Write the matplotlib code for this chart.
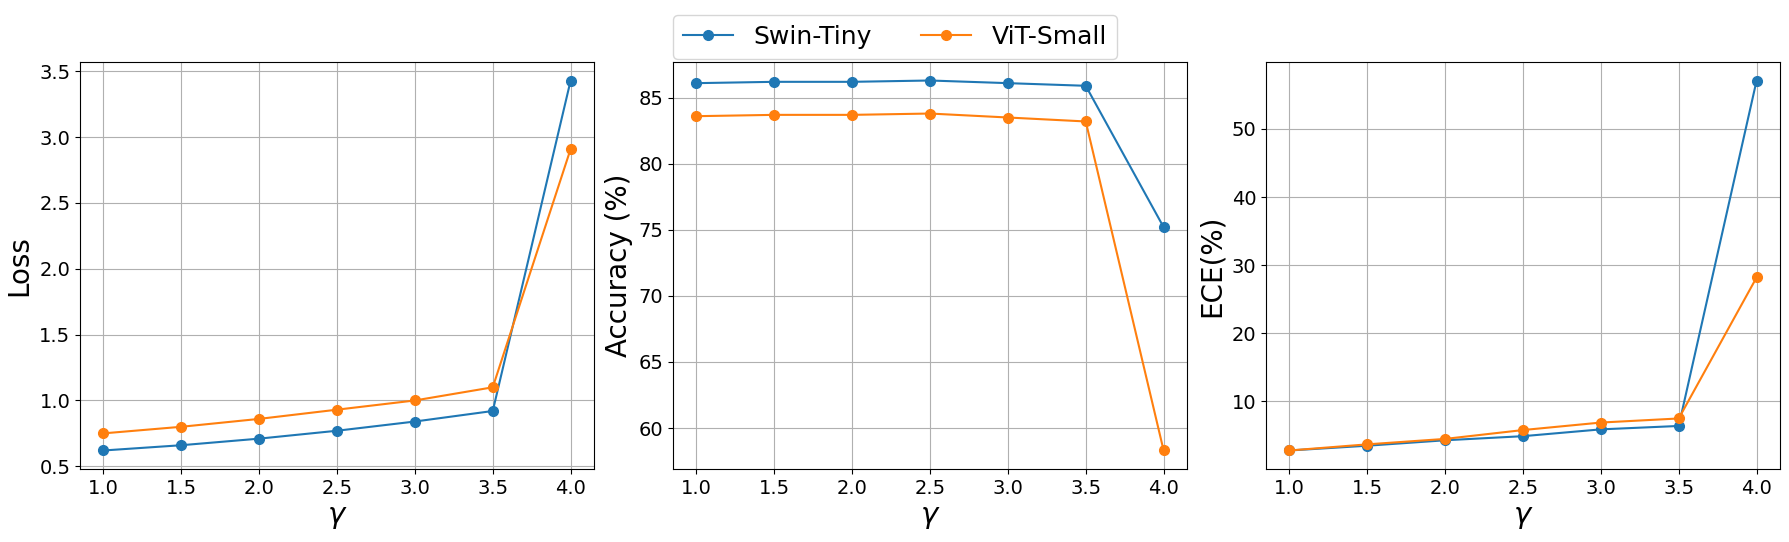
import matplotlib
matplotlib.use('Agg')
import matplotlib.pyplot as plt

gamma = [1.0, 1.5, 2.0, 2.5, 3.0, 3.5, 4.0]

swin_loss = [0.62, 0.66, 0.71, 0.77, 0.84, 0.92, 3.43]
vit_loss = [0.75, 0.80, 0.86, 0.93, 1.00, 1.10, 2.91]

swin_acc = [86.1, 86.2, 86.2, 86.3, 86.1, 85.9, 75.2]
vit_acc = [83.6, 83.7, 83.7, 83.8, 83.5, 83.2, 58.3]

swin_ece = [2.8, 3.5, 4.3, 4.9, 5.9, 6.4, 57.1]
vit_ece = [2.8, 3.7, 4.5, 5.8, 6.9, 7.5, 28.2]

panels = [
    ('Loss', swin_loss, vit_loss),
    ('Accuracy (%)', swin_acc, vit_acc),
    ('ECE(%)', swin_ece, vit_ece),
]

fig, axes = plt.subplots(1, 3, figsize=(17.9, 5.42), dpi=100)

for ax, (ylabel, swin, vit) in zip(axes, panels):
    ax.plot(gamma, swin, marker='o', markersize=7, color='#1f77b4', label='Swin-Tiny')
    ax.plot(gamma, vit, marker='o', markersize=7, color='#ff7f0e', label='ViT-Small')
    ax.set_xlabel(r'$\gamma$', fontsize=21)
    ax.set_ylabel(ylabel, fontsize=20)
    ax.set_xticks(gamma)
    ax.tick_params(labelsize=14)
    ax.grid(True)

handles, labels = axes[0].get_legend_handles_labels()
fig.legend(handles, labels, loc='upper center', bbox_to_anchor=(0.5, 0.995),
           ncol=2, fontsize=18)

fig.subplots_adjust(left=0.0447, right=0.9944, top=0.8856, bottom=0.1347, wspace=0.1537)
fig.savefig('out.png', dpi=100)
